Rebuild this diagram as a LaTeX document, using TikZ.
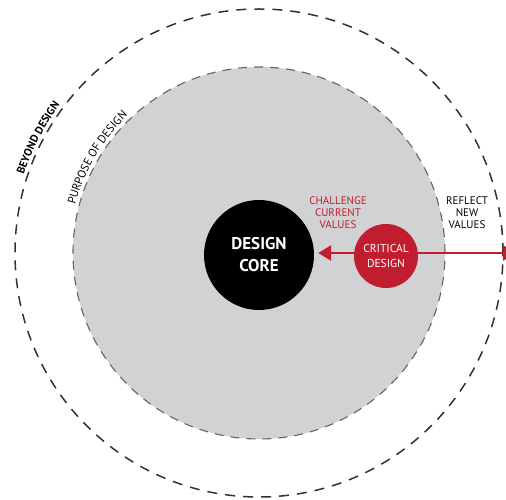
\documentclass[tikz,border=0pt]{standalone}
\usepackage{fontspec}
\setmainfont{PT Sans}
\usetikzlibrary{arrows.meta,decorations.text}
\definecolor{critred}{RGB}{192,30,46}
\definecolor{purposegrey}{RGB}{209,210,212}
\definecolor{ringdark}{RGB}{50,50,50}
\definecolor{ringmid}{RGB}{100,100,100}
\tikzset{
  ring/.style={draw=ringdark, line width=1.5pt, dash pattern=on 10pt off 8pt},
  purpose/.style={fill=purposegrey, draw=ringmid, line width=1.1pt, dash pattern=on 9pt off 7pt},
  core/.style={circle, fill=black, minimum size=110pt, inner sep=0pt, text=white,
    align=center, font=\fontsize{17}{22}\selectfont\bfseries},
  critical/.style={circle, fill=critred, minimum size=64pt, inner sep=0pt, text=white,
    align=center, font=\fontsize{11.5}{15.5}\selectfont},
  caption/.style={align=center, font=\fontsize{11}{12}\selectfont},
  redarrow/.style={draw=critred, line width=2.8pt, -{Triangle[length=13pt,width=15pt]}},
}
\begin{document}
\begin{tikzpicture}[x=1pt,y=1pt]
  \useasboundingbox (-259,-247) rectangle (247,253);

  % outer ring: beyond design
  \draw[ring] (0,0) circle[radius=244];
  % purpose of design
  \path[purpose] (0,0) circle[radius=186];

  % labels along the rings
  \path[decorate, decoration={text along path, text align=center,
      text={|\fontsize{11.5}{13}\selectfont|PURPOSE OF DESIGN}}]
    (178:190) arc[start angle=178, end angle=121, radius=190];
  \path[decorate, decoration={text along path, text align=center,
      text={|\fontsize{11}{13}\selectfont\bfseries|BEYOND DESIGN}}]
    (178:248) arc[start angle=178, end angle=127, radius=248];

  % core and critical design
  \node[core] (core) at (0,-2) {DESIGN\\CORE};
  \node[critical] (crit) at (127,-3) {CRITICAL\\DESIGN};
  \coordinate (edge) at (257,0);

  \draw[redarrow, shorten >=4pt] (crit.west |- 0,0) -- (core.east |- 0,0);
  \draw[redarrow] (crit.east |- 0,0) -- (edge);

  \node[caption, text=critred] (challenge) at (79,40) {CHALLENGE\\CURRENT\\VALUES};
  \node[caption, text=black] (reflect) at (208,40) {REFLECT\\NEW\\VALUES};
\end{tikzpicture}
\end{document}
